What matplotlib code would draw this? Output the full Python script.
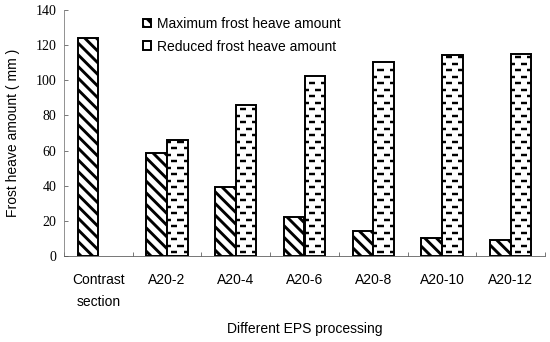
import matplotlib
matplotlib.use('Agg')
import matplotlib.pyplot as plt
from matplotlib.patches import Patch
import numpy as np

categories = ['Contrast\nsection', 'A20-2', 'A20-4', 'A20-6', 'A20-8', 'A20-10', 'A20-12']
max_heave = [124, 58.5, 39, 22.4, 14, 10.2, 9.3]
reduced_heave = [0, 66.3, 86, 102.3, 110.3, 114.6, 115.2]
series_names = ['Maximum frost heave amount', 'Reduced frost heave amount']
y_ticks = [0, 20, 40, 60, 80, 100, 120, 140]

DPI = 70
FS = 14.3
plt.rcParams['hatch.linewidth'] = 3.0
plt.rcParams['font.family'] = ['Liberation Sans', 'DejaVu Sans']

fig = plt.figure(figsize=(550 / DPI, 342 / DPI), dpi=DPI)
ax = fig.add_axes([64 / 550, 86 / 342, 481 / 550, 246 / 342])

x = np.arange(len(categories))
w = 0.3

bars_max = ax.bar(x - w / 2, max_heave, w, color='white', edgecolor='black',
                  linewidth=2, hatch='\\\\')
bars_red = ax.bar(x + w / 2, reduced_heave, w, color='white', edgecolor='black',
                  linewidth=2)

# dashed "brick" fill for the reduced bars, clipped to each bar
step = 3.7
for bar in bars_red:
    h = bar.get_height()
    if h <= 0:
        bar.set_visible(False)
        continue
    x0 = bar.get_x()
    bw = bar.get_width()
    period = 0.6 * bw
    dash = 0.3 * bw
    k = 0
    y = 2.0
    while y < h - 1.0:
        phase = 0.2 * bw if k % 2 == 0 else -0.1 * bw
        xs = np.arange(x0 + phase - period, x0 + bw + period, period)
        lines = ax.hlines([y] * len(xs), xs, xs + dash, colors='black',
                          linewidth=2.5, zorder=3)
        lines.set_clip_path(bar)
        y += step
        k += 1

ax.set_xlim(-0.5, len(categories) - 0.5)
ax.set_ylim(0, 140)
ax.set_yticks(y_ticks)
ax.set_yticklabels([str(t) for t in y_ticks], family='Liberation Serif', fontsize=FS)
ax.set_xticks(x)
ax.set_xticklabels(categories, fontsize=FS, linespacing=1.75)
ax.set_xticks(np.arange(-0.5, len(categories), 1), minor=True)
ax.tick_params(axis='x', which='major', length=0, pad=17)
ax.tick_params(axis='x', which='minor', direction='in', length=4, width=0.8, color='#555555')
ax.tick_params(axis='y', direction='in', length=4, width=0.8, color='#555555', pad=8)

for s in ['top', 'right']:
    ax.spines[s].set_visible(False)
ax.spines['left'].set_color('#777777')
ax.spines['left'].set_linewidth(0.8)
ax.spines['bottom'].set_color('#555555')
ax.spines['bottom'].set_linewidth(0.8)

ax.set_ylabel('Frost heave amount ( mm )', fontsize=FS, labelpad=16)
ax.set_xlabel('Different EPS processing', fontsize=FS, labelpad=14)

handles = [
    Patch(facecolor='white', edgecolor='black', linewidth=2, hatch='\\\\'),
    Patch(facecolor='white', edgecolor='black', linewidth=2),
]
leg = ax.legend(handles, series_names, loc='upper left', bbox_to_anchor=(0.15, 1.0),
                frameon=False, fontsize=FS, handlelength=0.6, handleheight=0.6,
                handletextpad=0.4, borderpad=0, labelspacing=0.62)

fig.savefig('out.png', dpi=DPI)
